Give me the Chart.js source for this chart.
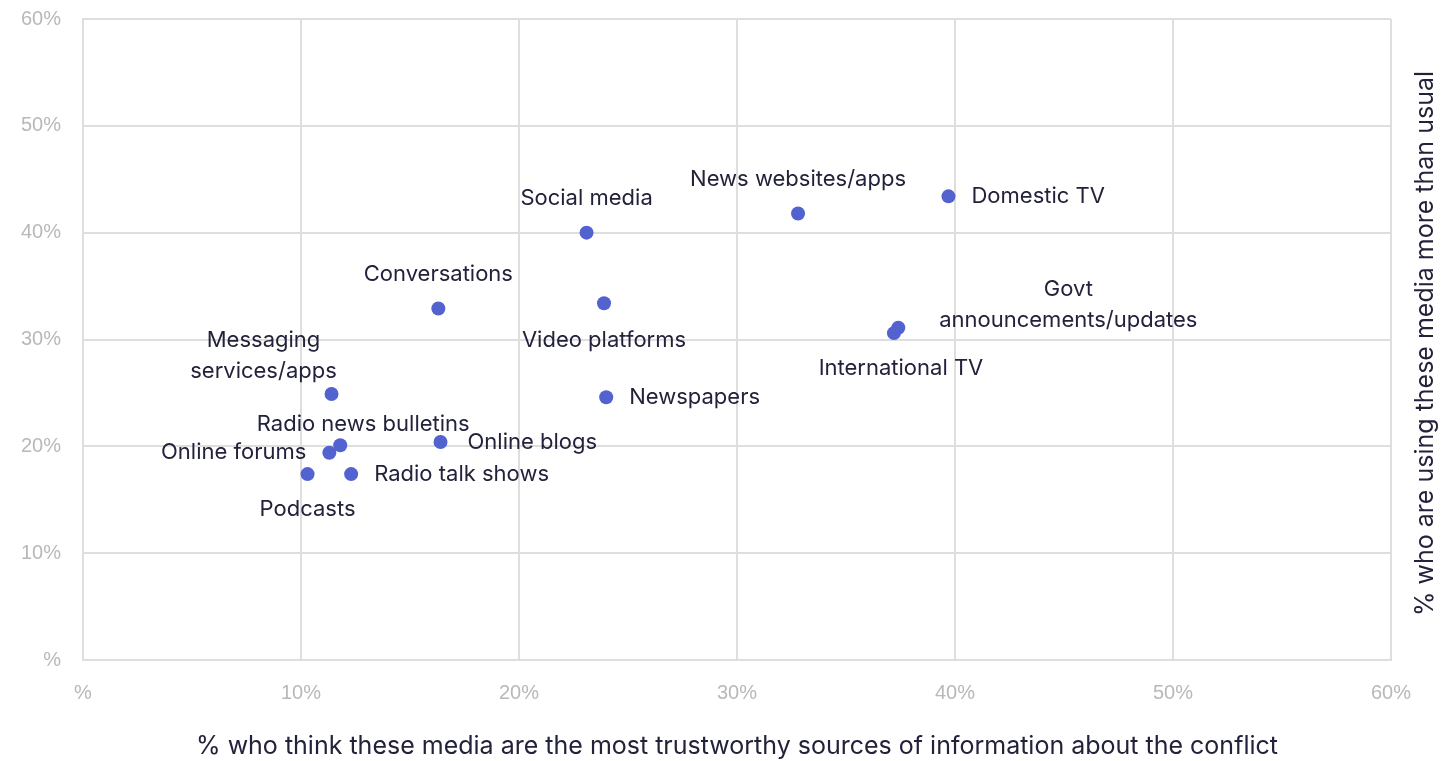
<!DOCTYPE html>
<html>
<head>
<meta charset="utf-8">
<script src="https://cdn.jsdelivr.net/npm/chart.js@4.4.1/dist/chart.umd.min.js"></script>
<style>
  html, body { margin: 0; padding: 0; background: #fff; }
  #wrap { width: 1455px; height: 761px; position: relative; }
</style>
</head>
<body>
<div id="wrap"><canvas id="chart"></canvas></div>
<script>
// media types and their survey shares (%)
const mediaLabels = [
  'Domestic TV', 'News websites/apps', 'Social media', 'Video platforms',
  'Conversations', 'Govt announcements/updates', 'International TV',
  'Messaging services/apps', 'Newspapers', 'Radio news bulletins',
  'Online blogs', 'Online forums', 'Podcasts', 'Radio talk shows',
];
// x: most trustworthy source
const trustworthy = [39.7, 32.8, 23.1, 23.9, 16.3, 37.4, 37.2, 11.4, 24.0, 11.8, 16.4, 11.3, 10.3, 12.3];
// y: using more than usual
const usingMore   = [43.4, 41.8, 40.0, 33.4, 32.9, 31.1, 30.6, 24.9, 24.6, 20.1, 20.4, 19.4, 17.4, 17.4];
const axisTicks = [0, 10, 20, 30, 40, 50, 60];

const X_TITLE = '% who think these media are the most trustworthy sources of information about the conflict';
const Y_TITLE = '% who are using these media more than usual';

const INK = '#23223b';
const LABEL_FONT = '400 22px Inter, "Noto Sans", sans-serif';
const TITLE_FONT = '400 25px Inter, "Noto Sans", sans-serif';
const TICK_FONT = { family: '"Liberation Sans", Arial, sans-serif', size: 20 };

// label placement around each point: [dx, dy, align], one line per entry
const labelPlacement = {
  'Domestic TV':                [[23, 0, 'left']],
  'News websites/apps':         [[0, -34, 'center']],
  'Social media':               [[0, -34, 'center']],
  'Video platforms':            [[0, 37, 'center']],
  'Conversations':              [[0, -34, 'center']],
  'Govt announcements/updates': [[170, -38, 'center', 'Govt'], [170, -7, 'center', 'announcements/updates']],
  'International TV':           [[7, 35, 'center']],
  'Messaging services/apps':    [[-68, -54, 'center', 'Messaging'], [-68, -23, 'center', 'services/apps']],
  'Newspapers':                 [[23, 0, 'left']],
  'Radio news bulletins':       [[23, -21, 'center']],
  'Online blogs':               [[27, 0, 'left']],
  'Online forums':              [[-23, 0, 'right']],
  'Podcasts':                   [[0, 35, 'center']],
  'Radio talk shows':           [[23, 0, 'left']],
};

const pointLabels = {
  id: 'pointLabels',
  afterDatasetsDraw(chart) {
    const { ctx } = chart;
    const meta = chart.getDatasetMeta(0);
    ctx.save();
    ctx.font = LABEL_FONT;
    ctx.fillStyle = INK;
    ctx.textBaseline = 'middle';
    meta.data.forEach((pt, i) => {
      const name = mediaLabels[i];
      (labelPlacement[name] || [[0, -30, 'center']]).forEach(([dx, dy, align, text]) => {
        ctx.textAlign = align;
        ctx.fillText(text || name, pt.x + dx, pt.y + dy);
      });
    });
    ctx.restore();
  },
};

// rotated title on the right edge, reading bottom to top
const rightTitle = {
  id: 'rightTitle',
  afterDraw(chart) {
    const { ctx, chartArea } = chart;
    ctx.save();
    ctx.translate(1425, (chartArea.top + chartArea.bottom) / 2 + 4);
    ctx.rotate(-Math.PI / 2);
    ctx.font = TITLE_FONT;
    ctx.fillStyle = INK;
    ctx.textAlign = 'center';
    ctx.textBaseline = 'middle';
    ctx.fillText(Y_TITLE, 0, 0);
    ctx.restore();
  },
};

const pctTick = v => (v === 0 ? '%' : v + '%');

new Chart(document.getElementById('chart'), {
  type: 'scatter',
  data: {
    datasets: [{
      data: trustworthy.map((x, i) => ({ x, y: usingMore[i] })),
      backgroundColor: '#5262cf',
      borderWidth: 0,
      pointRadius: 7,
      pointHoverRadius: 7,
    }],
  },
  options: {
    responsive: true,
    maintainAspectRatio: false,
    animation: false,
    layout: { padding: { top: 19, right: 64, left: 0, bottom: 0 } },
    plugins: { legend: { display: false }, tooltip: { enabled: false } },
    scales: {
      x: {
        type: 'linear', min: 0, max: 60,
        afterBuildTicks: s => { s.ticks = axisTicks.map(v => ({ value: v })); },
        afterFit: s => { s.height = 101; s.paddingLeft = 0; s.paddingRight = 0; },
        grid: { color: '#dedede', lineWidth: 2, drawTicks: false },
        border: { color: '#dedede', width: 2 },
        ticks: { color: '#b8b8b8', font: TICK_FONT, padding: 21, callback: pctTick },
        title: {
          display: true, text: X_TITLE, color: INK,
          font: { family: 'Inter, "Noto Sans", sans-serif', size: 25 },
          padding: 0,
        },
      },
      y: {
        type: 'linear', min: 0, max: 60,
        afterBuildTicks: s => { s.ticks = axisTicks.map(v => ({ value: v })); },
        afterFit: s => { s.width = 83; s.paddingTop = 0; s.paddingBottom = 0; },
        grid: { color: '#dedede', lineWidth: 2, drawTicks: false },
        border: { color: '#dedede', width: 2 },
        ticks: { color: '#b8b8b8', font: TICK_FONT, padding: 22, callback: pctTick },
      },
    },
  },
  plugins: [pointLabels, rightTitle],
});
</script>
</body>
</html>
